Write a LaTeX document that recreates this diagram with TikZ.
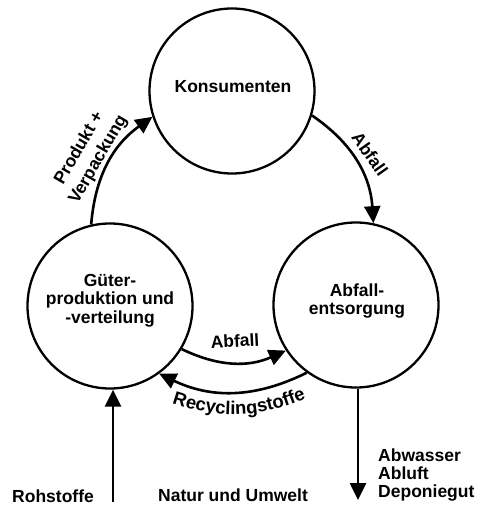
\documentclass[tikz,border=0pt]{standalone}
\usepackage{fontspec}
\setsansfont{Liberation Sans}
\usetikzlibrary{arrows.meta,decorations.text}
\begin{document}
\begin{tikzpicture}[x=1pt,y=-1pt,
  proc/.style={circle, draw, line width=2.3pt, minimum size=165pt, inner sep=0pt},
  lab/.style={font=\sffamily\bfseries\fontsize{17.5}{19}\selectfont, inner sep=0pt},
  flow/.style={line width=2.6pt, -{Triangle[length=17pt,width=16pt]}},
]
\useasboundingbox (0,0) rectangle (480,508);
% circles
\node[proc] (K) at (232,91) {};
\node[proc] (G) at (110,306) {};
\node[proc] (A) at (356,305) {};
% circle texts
\node[lab] (Kt) at (233,87) {Konsumenten};
\node[lab, align=center, font=\sffamily\bfseries\fontsize{17.5}{18.5}\selectfont] (Gt) at (110,300.5) {Güter-\\produktion und\\-verteilung};
\node[lab, align=center, font=\sffamily\bfseries\fontsize{17.5}{18}\selectfont] (At) at (357,301.5) {Abfall-\\entsorgung};
% curved flows
\draw[flow] (G.103) to[bend left=25] (K.198);
\draw[flow] (K.-17) to[bend left=26] (A.78);
\draw[flow] (G.-31) to[bend right=25] (A.213);
\draw[flow] (A.234) to[bend left=26] (G.-54);
% flow labels
\node[lab, align=center, rotate=60, font=\sffamily\bfseries\fontsize{17.5}{22}\selectfont] (lp) at (89,154) {Produkt +\\Verpackung};
\node[lab, rotate=-55] (la1) at (370,154) {Abfall};
\node[lab, rotate=3] (la2) at (235,341) {Abfall};
\coordinate (r1) at (166,401);
\coordinate (r2) at (312,396);
\path[decorate, decoration={text along path, text align=center,
  text={|\sffamily\bfseries\fontsize{18.5}{19}\selectfont|Recyclingstoffe}}]
  (r1) to[bend right=22] (r2);
% vertical flows
\coordinate (rb) at (113,502);
\coordinate (db) at (358,500);
\draw[flow] (rb) -- (rb |- G.south);
\draw[flow] (db |- A.south) -- (db);
% bottom texts
\node[lab, anchor=base west] (roh) at (12,502) {Rohstoffe};
\node[lab, anchor=base west] (nat) at (158,501) {Natur und Umwelt};
\node[lab, anchor=north west, align=left, font=\sffamily\bfseries\fontsize{17.5}{18}\selectfont] (out) at (378,449) {Abwasser\\Abluft\\Deponiegut};
\end{tikzpicture}
\end{document}
